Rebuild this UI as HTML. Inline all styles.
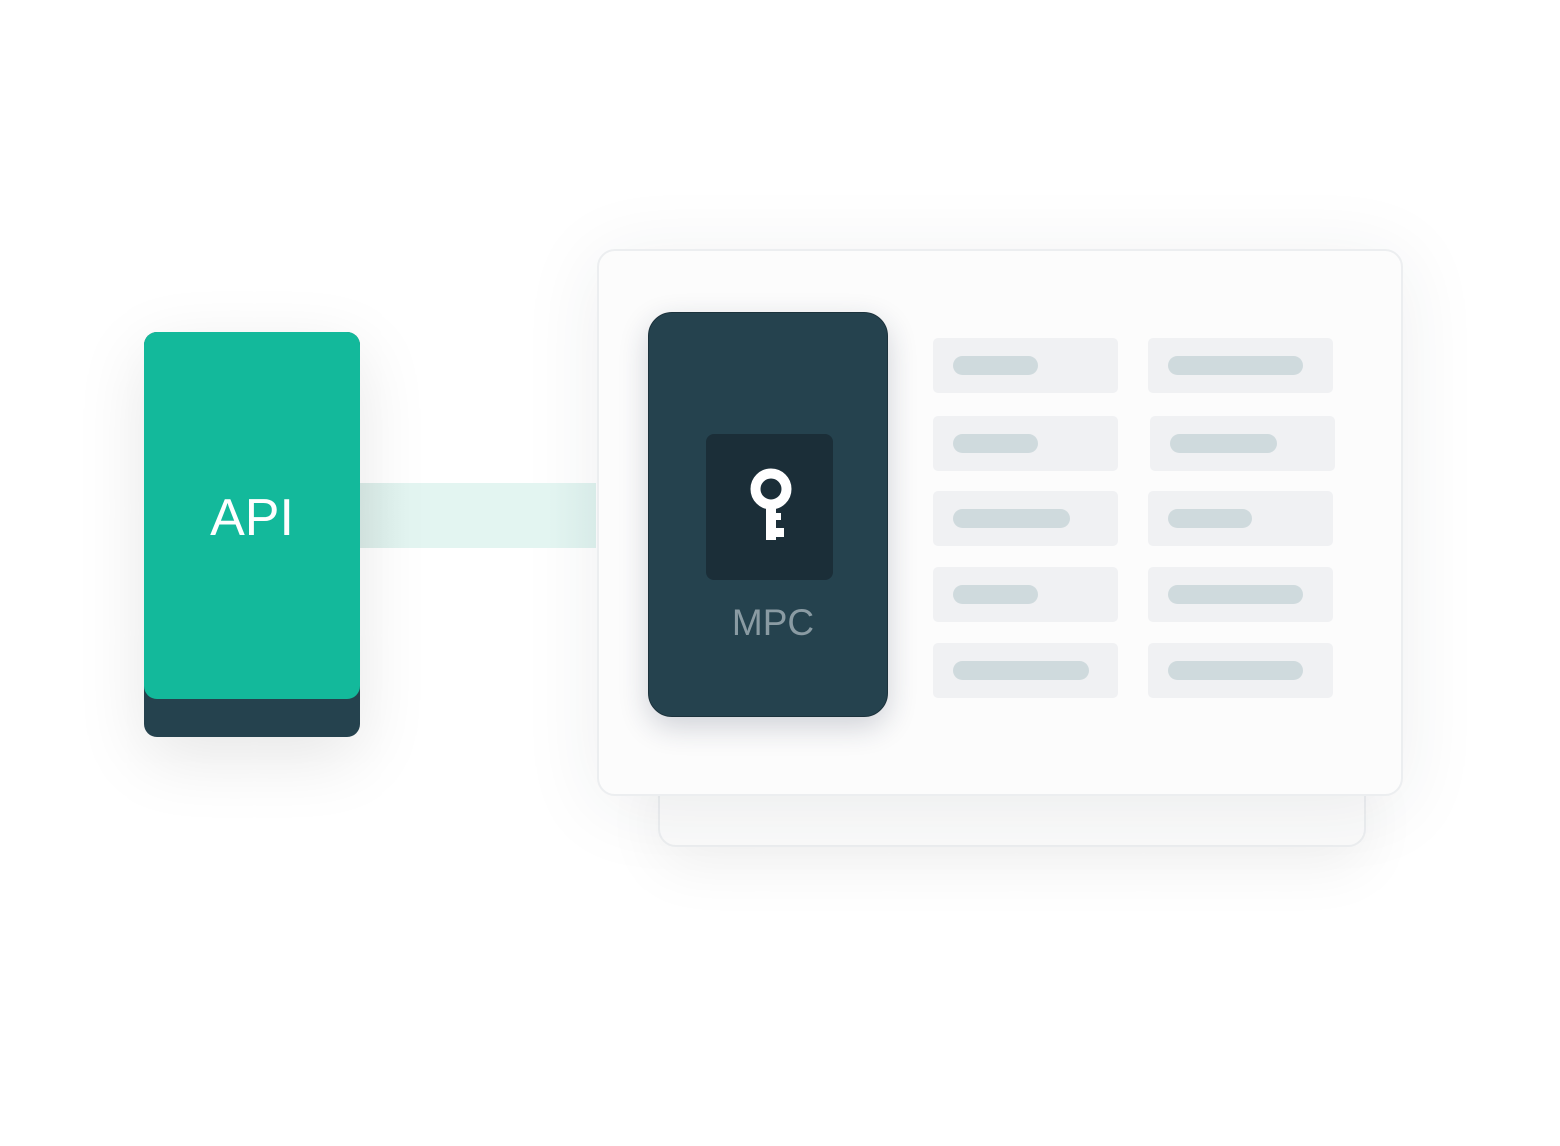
<!DOCTYPE html>
<html><head><style>
body{margin:0;width:1560px;height:1146px;background:#fff;position:relative;overflow:hidden;font-family:"Liberation Sans",sans-serif}
.a{position:absolute}
.box{position:absolute;background:#f0f1f3;border-radius:5px;width:185px;height:55px}
.pill{position:absolute;top:18px;left:20px;height:19px;border-radius:10px;background:#cfdadd}
</style></head><body>
<div class="a" style="left:658px;top:760px;width:704px;height:83px;border:2px solid #eceef0;border-radius:18px;background:#fbfbfb;box-shadow:0 20px 60px rgba(0,0,0,0.06)"></div>
<div class="a" style="left:597px;top:249px;width:802px;height:543px;border:2px solid #eceef0;border-radius:18px;background:#fcfcfc;box-shadow:0 10px 80px rgba(40,50,70,0.08)"></div>
<div class="a" style="left:360px;top:483px;width:236px;height:65px;background:linear-gradient(90deg,#dbede9,#e3f5f1 20%,#e3f5f1 80%,#d8ebe8)"></div>
<div class="a" style="left:144px;top:332px;width:216px;height:405px;border-radius:13px;background:#25424e;box-shadow:0 20px 70px rgba(0,0,0,0.1)"></div>
<div class="a" style="left:144px;top:332px;width:216px;height:367px;border-radius:13px;background:#13b99b;color:#fff;font-size:52px;text-align:center;line-height:367px"><span style="position:relative;top:3px">API</span></div>
<div class="a" style="left:648px;top:312px;width:238px;height:403px;border:1px solid #1c323c;border-radius:24px;background:#25424e;box-shadow:0 10px 30px rgba(30,40,70,0.2)"></div>
<div class="a" style="left:706px;top:434px;width:127px;height:146px;border-radius:8px;background:#1b2e38"></div>
<svg class="a" style="left:0;top:0" width="1560" height="1146">
<circle cx="771" cy="489" r="15.5" fill="none" stroke="#fff" stroke-width="10"/>
<rect x="766" y="502" width="10" height="38" fill="#fff"/>
<rect x="775" y="513" width="6" height="7" fill="#fff"/>
<rect x="775" y="528" width="9" height="9" fill="#fff"/>
</svg>
<div class="a" style="left:648px;top:600px;width:250px;text-align:center;color:#8a9ba3;font-size:37px;line-height:46px">MPC</div>
<div class="box" style="left:933px;top:338px"><div class="pill" style="width:85px"></div></div>
<div class="box" style="left:1148px;top:338px"><div class="pill" style="width:135px"></div></div>
<div class="box" style="left:933px;top:416px"><div class="pill" style="width:85px"></div></div>
<div class="box" style="left:1150px;top:416px"><div class="pill" style="width:107px"></div></div>
<div class="box" style="left:933px;top:491px"><div class="pill" style="width:117px"></div></div>
<div class="box" style="left:1148px;top:491px"><div class="pill" style="width:84px"></div></div>
<div class="box" style="left:933px;top:567px"><div class="pill" style="width:85px"></div></div>
<div class="box" style="left:1148px;top:567px"><div class="pill" style="width:135px"></div></div>
<div class="box" style="left:933px;top:643px"><div class="pill" style="width:136px"></div></div>
<div class="box" style="left:1148px;top:643px"><div class="pill" style="width:135px"></div></div>
</body></html>
